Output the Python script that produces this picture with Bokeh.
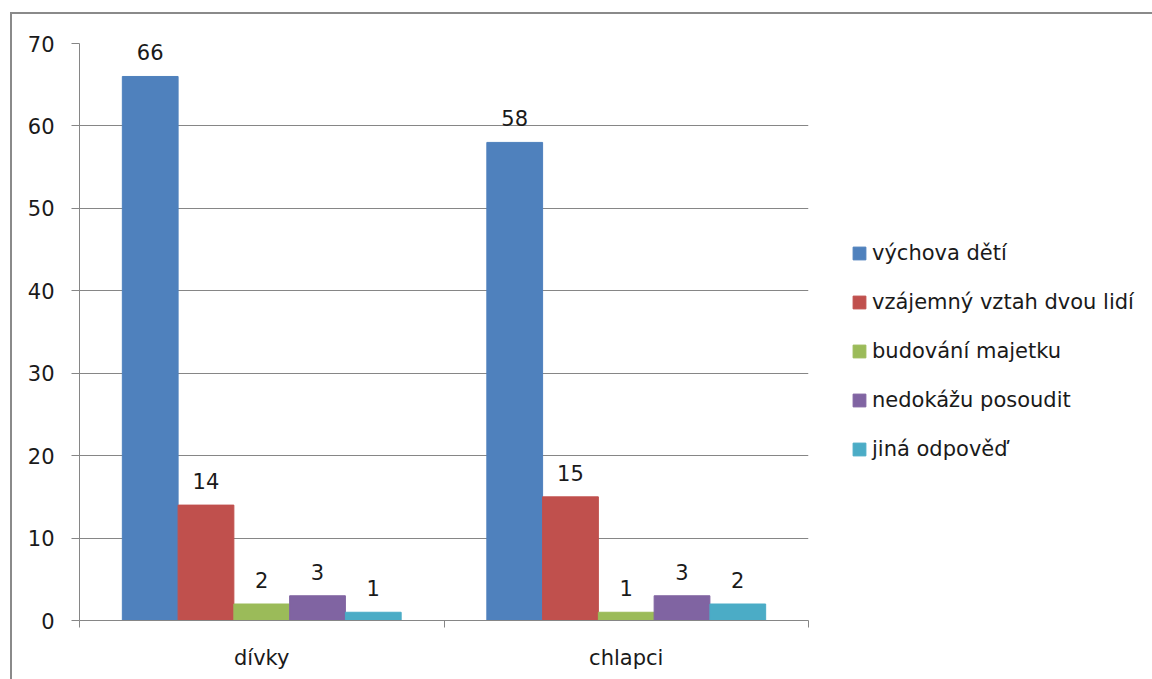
from bokeh.plotting import figure
from bokeh.layouts import row
from bokeh.models import Range1d, FixedTicker, Legend, LegendItem, ColumnDataSource
from bokeh.transform import dodge
from bokeh.core.properties import value
from bokeh.embed import file_html
from bokeh.resources import INLINE

categories = ["dívky", "chlapci"]
series_names = ["výchova dětí", "vzájemný vztah dvou lidí", "budování majetku",
                "nedokážu posoudit", "jiná odpověď"]
vychova_deti = [66, 58]
vzajemny_vztah = [14, 15]
budovani_majetku = [2, 1]
nedokazu_posoudit = [3, 3]
jina_odpoved = [1, 2]
y_ticks = [0, 10, 20, 30, 40, 50, 60, 70]

series_values = [vychova_deti, vzajemny_vztah, budovani_majetku, nedokazu_posoudit, jina_odpoved]
colors = ["#4F81BD", "#C0504D", "#9BBB59", "#8064A2", "#4BACC6"]

FONT = "DejaVu Sans"
FS = "21px"
GRAY = "#868686"
TEXT = "#1a1a1a"

p = figure(width=816, height=665,
           x_range=Range1d(0, len(categories)), y_range=Range1d(0, max(y_ticks)),
           output_backend="svg", toolbar_location=None,
           min_border_left=67, min_border_right=20, min_border_top=29, min_border_bottom=59)
p.outline_line_color = None
p.background_fill_color = "white"
p.border_fill_color = "white"

centers = [i + 0.5 for i in range(len(categories))]
data = {"xc": centers}
for i, vals in enumerate(series_values):
    data[f"s{i}"] = vals
    data[f"t{i}"] = [str(v) for v in vals]
src = ColumnDataSource(data)

bar_w = 0.153
n = len(series_values)
for i in range(n):
    off = (i - (n - 1) / 2) * bar_w
    p.vbar(x=dodge("xc", off), top=f"s{i}", width=bar_w,
           source=src, fill_color=colors[i], line_color=colors[i])
    p.text(x=dodge("xc", off), y=f"s{i}", text=f"t{i}",
           source=src, text_align="center", text_baseline="alphabetic",
           y_offset=-24, text_font=value(FONT), text_font_size=FS, text_color=TEXT)

# y axis
p.yaxis.ticker = FixedTicker(ticks=y_ticks)
p.yaxis.axis_line_color = GRAY
p.yaxis.major_tick_line_color = GRAY
p.yaxis.major_tick_out = 8
p.yaxis.major_tick_in = 0
p.yaxis.minor_tick_line_color = None
p.yaxis.major_label_standoff = 17
p.yaxis.major_label_text_font = FONT
p.yaxis.major_label_text_font_size = FS
p.yaxis.major_label_text_color = TEXT

# x axis
p.xaxis.ticker = FixedTicker(ticks=centers, minor_ticks=list(range(len(categories) + 1)))
p.xaxis.major_label_overrides = {c: name for c, name in zip(centers, categories)}
p.xaxis.axis_line_color = GRAY
p.xaxis.major_tick_line_color = None
p.xaxis.minor_tick_line_color = GRAY
p.xaxis.minor_tick_out = 7
p.xaxis.minor_tick_in = 0
p.xaxis.major_label_standoff = 18
p.xaxis.major_label_text_font = FONT
p.xaxis.major_label_text_font_size = FS
p.xaxis.major_label_text_color = TEXT

p.xgrid.grid_line_color = None
p.ygrid.grid_line_color = GRAY
p.ygrid.ticker = FixedTicker(ticks=y_ticks)

# legend panel (its renderers are hidden; only their legend swatches show)
pl = figure(width=324, height=665, output_backend="svg", toolbar_location=None,
            x_axis_location=None, y_axis_location=None,
            min_border_left=0, min_border_right=0, min_border_top=0, min_border_bottom=0)
pl.outline_line_color = None
pl.xgrid.grid_line_color = None
pl.ygrid.grid_line_color = None
items = []
for i in range(n):
    r = pl.vbar(x="xc", top=f"s{i}", width=0.1, source=src,
                fill_color=colors[i], line_color=colors[i], visible=False)
    items.append(LegendItem(label=series_names[i], renderers=[r]))
legend = Legend(items=items, location=(23, 159), orientation="vertical",
                border_line_color=None, background_fill_alpha=0, padding=0, margin=0,
                glyph_width=16, glyph_height=16, label_standoff=5, label_height=24,
                spacing=25, label_text_font=FONT, label_text_font_size=FS,
                label_text_color=TEXT, inactive_fill_alpha=0)
pl.add_layout(legend, "center")

layout = row(p, pl, margin=(12, 0, 0, 10),
             styles={"border-top": "2px solid #8a8a8a", "border-left": "2px solid #8a8a8a"})

open("out.html", "w").write(file_html(layout, INLINE))
